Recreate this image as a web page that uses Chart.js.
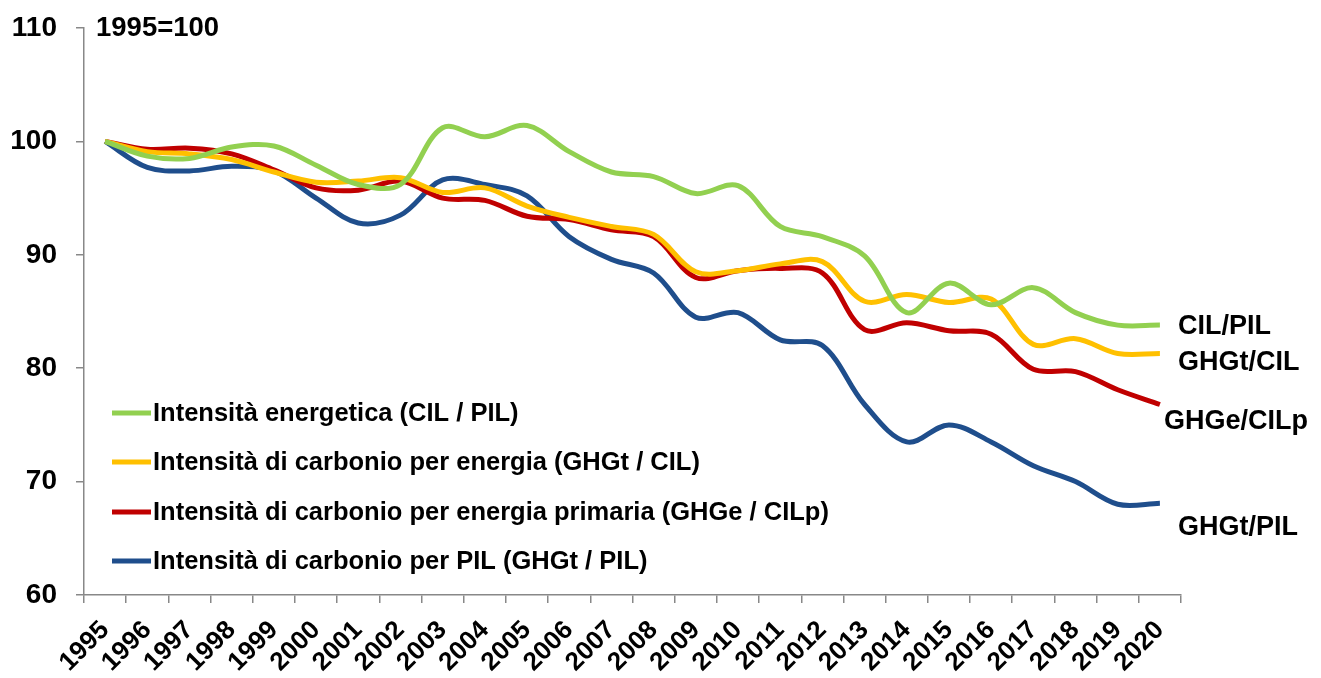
<!DOCTYPE html>
<html>
<head>
<meta charset="utf-8">
<script src="https://cdn.jsdelivr.net/npm/chart.js@4/dist/chart.umd.min.js"></script>
<style>
  body { margin: 0; background: #fff; }
  #wrap { width: 1321px; height: 678px; }
</style>
</head>
<body>
<div id="wrap"><canvas id="chart" width="1321" height="678"></canvas></div>
<script>
const years = ['1995', '1996', '1997', '1998', '1999', '2000', '2001', '2002', '2003', '2004', '2005', '2006', '2007',
  '2008', '2009', '2010', '2011', '2012', '2013', '2014', '2015', '2016', '2017', '2018', '2019', '2020'];

// indice 1995=100
const cilPil = [100, 98.7, 98.5, 99.5, 99.6, 97.9, 96.2, 96.2, 101.2, 100.4, 101.4, 99.1, 97.3,
  96.9, 95.4, 96.1, 92.5, 91.6, 89.9, 84.9, 87.5, 85.6, 87.1, 84.9, 83.8, 83.8];
const ghgtCil = [100, 99.1, 98.9, 98.4, 97.3, 96.4, 96.5, 96.8, 95.5, 95.9, 94.3, 93.3, 92.5,
  91.8, 88.5, 88.6, 89.2, 89.4, 85.9, 86.5, 85.8, 86.1, 82.1, 82.6, 81.3, 81.3];
const ghgeCilp = [100, 99.3, 99.4, 98.9, 97.5, 95.9, 95.7, 96.5, 95.0, 94.8, 93.4, 93.1, 92.2,
  91.6, 88.0, 88.6, 88.8, 88.4, 83.4, 84.0, 83.3, 83.0, 79.9, 79.7, 78.1, 76.8];
const ghgtPil = [100, 97.7, 97.4, 97.8, 97.4, 95.0, 92.8, 93.5, 96.6, 96.2, 95.2, 91.6, 89.6,
  88.4, 84.5, 84.9, 82.5, 82.0, 76.8, 73.5, 75.0, 73.5, 71.4, 70.0, 68.0, 68.1];

const seriesNames = [
  'Intensità energetica (CIL / PIL)',
  'Intensità di carbonio per energia (GHGt / CIL)',
  'Intensità di carbonio per energia primaria (GHGe / CILp)',
  'Intensità di carbonio per PIL (GHGt / PIL)'
];
const endLabels = ['CIL/PIL', 'GHGt/CIL', 'GHGe/CILp', 'GHGt/PIL'];
const baseNote = '1995=100';
const yMin = 60, yMax = 110, yStep = 10;

const colors = ['#92D050', '#FFC000', '#C00000', '#1F4E8C'];
const FONT = '"Liberation Sans", Arial, sans-serif';

// legend inside the plot + labels at the end of the lines
const annotations = {
  id: 'annotations',
  afterDraw(chart) {
    const ctx = chart.ctx;
    ctx.save();
    // legend
    const rows = [413, 462, 512, 561];
    ctx.font = 'bold 25.5px ' + FONT;
    ctx.textBaseline = 'middle';
    ctx.fillStyle = '#000';
    seriesNames.forEach((name, i) => {
      ctx.strokeStyle = colors[i];
      ctx.lineWidth = 5;
      ctx.beginPath();
      ctx.moveTo(112, rows[i]);
      ctx.lineTo(151, rows[i]);
      ctx.stroke();
      ctx.fillText(name, 153, rows[i] + 1);
    });
    // end labels
    const ends = [[1178, 327], [1178, 363], [1164, 422], [1178, 528]];
    ctx.font = 'bold 27px ' + FONT;
    endLabels.forEach((t, i) => ctx.fillText(t, ends[i][0], ends[i][1]));
    // base note
    ctx.font = 'bold 27.5px ' + FONT;
    ctx.fillText(baseNote, 96, 28);
    ctx.restore();
  }
};

new Chart(document.getElementById('chart'), {
  type: 'line',
  data: {
    labels: years,
    datasets: [cilPil, ghgtCil, ghgeCilp, ghgtPil].map((d, i) => ({
      label: seriesNames[i],
      data: d,
      borderColor: colors[i],
      backgroundColor: colors[i],
      borderWidth: 5,
      pointRadius: 0,
      tension: 0.35,
      fill: false
    }))
  },
  options: {
    responsive: false,
    animation: false,
    layout: { padding: { top: 28, right: 140, left: 0, bottom: 0 } },
    plugins: {
      legend: { display: false },
      tooltip: { enabled: false }
    },
    scales: {
      x: {
        offset: true,
        afterFit: s => { s.height = 83; s.paddingLeft = 0; s.paddingRight = 0; },
        grid: { drawOnChartArea: false, offset: true, tickLength: 8, color: '#888', lineWidth: 1.5 },
        border: { display: true, color: '#888', width: 1.5 },
        ticks: {
          autoSkip: false, maxRotation: 45, minRotation: 45, padding: 12,
          color: '#000', font: { family: FONT, size: 26, weight: 'bold' }
        }
      },
      y: {
        min: yMin, max: yMax,
        afterFit: s => { s.width = 84; s.paddingTop = 0; s.paddingBottom = 0; },
        grid: { drawOnChartArea: false, tickLength: 8, color: '#888', lineWidth: 1.5 },
        border: { display: true, color: '#888', width: 1.5 },
        ticks: {
          stepSize: yStep, padding: 19,
          color: '#000', font: { family: FONT, size: 28, weight: 'bold' }
        }
      }
    }
  },
  plugins: [annotations]
});
</script>
</body>
</html>
